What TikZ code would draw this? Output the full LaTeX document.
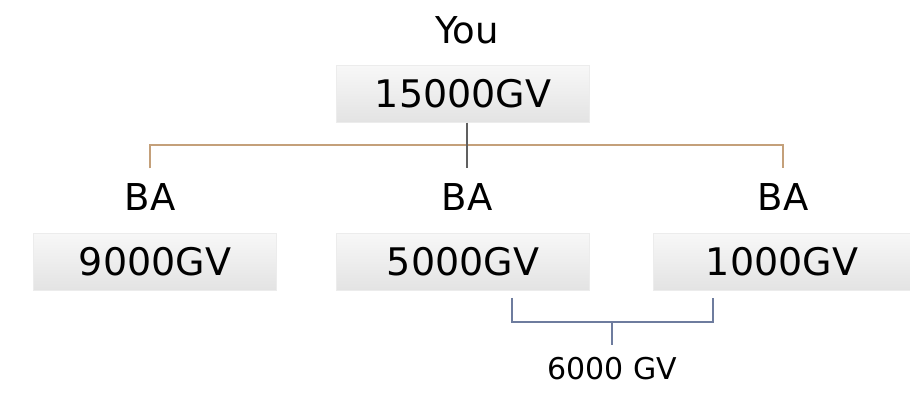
\documentclass[tikz,border=0pt]{standalone}
\usepackage{fontspec}
\setmainfont{DejaVu Sans}
\begin{document}
\begin{tikzpicture}[x=1pt,y=-1pt,
  gvbox/.style={shade, top color=gray!6, bottom color=gray!22, draw=gray!15,
    minimum height=57pt, inner sep=0pt, font=\fontsize{38}{42}\selectfont},
  lbl/.style={inner sep=0pt, font=\fontsize{37}{40}\selectfont},
  balbl/.style={inner xsep=0pt, inner ysep=15pt, text height=27pt, text depth=0pt, font=\fontsize{37}{40}\selectfont},
  tree/.style={draw={rgb,255:red,196;green,160;blue,122}, line width=1.6pt},
  stem/.style={draw=gray!75!black, line width=1.4pt},
  brace/.style={draw={rgb,255:red,110;green,124;blue,158}, line width=1.8pt}]
\useasboundingbox (0,0) rectangle (910,395);
\fill[white] (0,0) rectangle (910,395);
\node[lbl] (you) at (467,30) {You};
\node[gvbox, minimum width=253pt] (top) at (463,94) {15000GV};
\node[balbl] (ba1) at (150,197) {BA};
\node[balbl] (ba2) at (467,197) {BA};
\node[balbl] (ba3) at (783,197) {BA};
\node[gvbox, minimum width=243pt] (g1) at (155,262) {9000GV};
\node[gvbox, minimum width=253pt] (g2) at (463,262) {5000GV};
\node[gvbox, minimum width=258pt] (g3) at (782,262) {1000GV};
\node[font=\fontsize{30}{33}\selectfont, anchor=north, inner xsep=0pt, inner ysep=12pt, text height=22pt, text depth=0pt] (six) at (612,345) {6000 GV};
\coordinate (hline) at (0,145);
\coordinate (bl) at (512,298);
\coordinate (br) at (713,298);
\coordinate (bbar) at (0,322);
\draw[tree] (ba1.north) |- (hline -| ba2.north) -| (ba3.north);
\draw[stem] (top.south -| ba2.north) -- (ba2.north);
\draw[brace] (bl) |- (bbar -| six.north) -| (br);
\draw[brace] (bbar -| six.north) -- (six.north);
\end{tikzpicture}
\end{document}
